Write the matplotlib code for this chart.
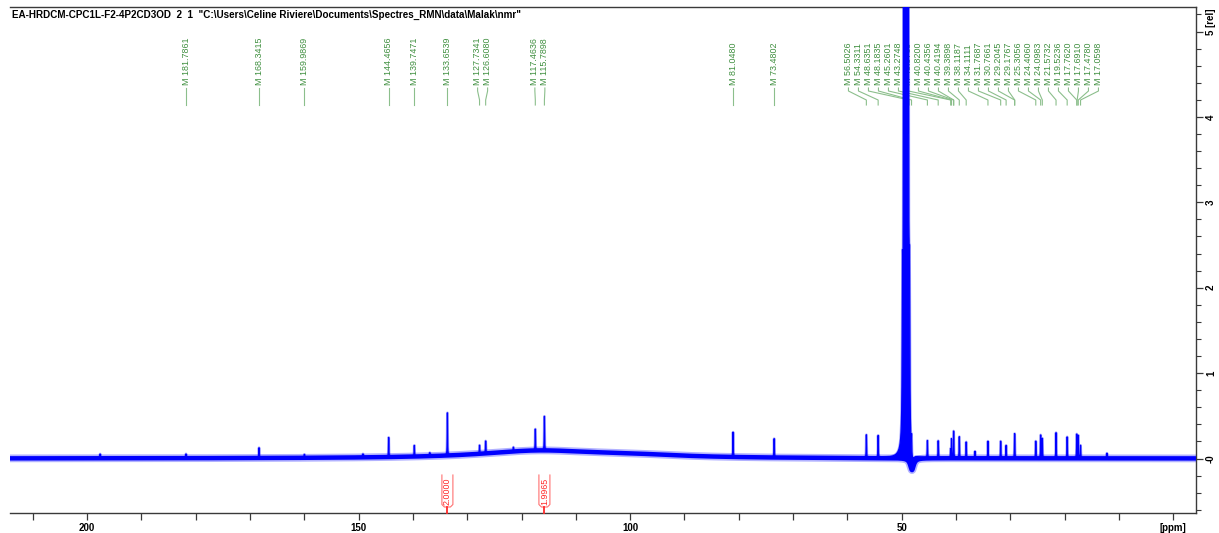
import numpy as np
import matplotlib
matplotlib.use("Agg")
import matplotlib.pyplot as plt
from matplotlib.transforms import blended_transform_factory

plt.rcParams['font.family'] = ['Liberation Sans', 'DejaVu Sans']

title = ('EA-HRDCM-CPC1L-F2-4P2CD3OD  2  1  '
         '"C:\\Users\\Celine Riviere\\Documents\\Spectres_RMN\\data\\Malak\\nmr"')

# Picked 13C peaks (ppm) and their intensities (rel)
peak_ppm = [181.7861, 168.3415, 159.9869, 144.4656, 139.7471, 133.6539,
            127.7341, 126.6080, 117.4636, 115.7898, 81.0480, 73.4802,
            56.5026, 54.3311, 48.6351, 48.1835, 45.2601, 43.2748, 40.9769,
            40.8200, 40.4356, 40.4194, 39.3898, 38.1187, 34.1111, 31.7687,
            30.7661, 29.2045, 29.1767, 25.3056, 24.4060, 24.0983, 21.5732,
            19.5236, 17.7620, 17.6910, 17.4780, 17.0598]
peak_height = [0.05, 0.12, 0.04, 0.23, 0.13, 0.50,
               0.10, 0.145, 0.25, 0.40, 0.29, 0.22,
               0.27, 0.26, 0.60, 0.20, 0.20, 0.20, 0.10,
               0.22, 0.20, 0.13, 0.25, 0.19, 0.20, 0.20,
               0.15, 0.20, 0.13, 0.20, 0.27, 0.23, 0.30,
               0.25, 0.24, 0.20, 0.26, 0.15]

# Small unpicked lines
minor_ppm = [197.6, 149.2, 136.9, 121.5, 36.5, 12.2]
minor_height = [0.05, 0.04, 0.04, 0.05, 0.08, 0.06]

# CD3OD septet
solvent_ppm = [49.845, 49.63, 49.415, 49.2, 48.985, 48.77, 48.555]
solvent_height = [1.7, 6.0, 8.0, 10.0, 8.0, 6.0, 1.7]

# Broad baseline features (hump and phase dip after the solvent)
broad_ppm = [117.0, 100.0, 48.1]
broad_height = [0.085, 0.03, -0.14]
broad_width = [13.0, 12.0, 0.4]

# Integrals
integral_ppm = [133.6539, 115.7898]
integral_value = [2.0000, 1.9965]

# Axes
x_range = (214.2, -4.2)
y_range = (-0.638, 5.287)
x_major = [200, 150, 100, 50, 0]
x_major_labels = ['200', '150', '100', '50', '[ppm]']
y_major = [0, 1, 2, 3, 4, 5]
y_major_labels = ['-0', '1', '2', '3', '4', '5']

W, H = 1219, 533
fig = plt.figure(figsize=(W / 100, H / 100), dpi=100)
ax_l, ax_b, ax_w, ax_h = 10, 20, 1186, 506
ax = fig.add_axes([ax_l / W, ax_b / H, ax_w / W, ax_h / H])
ax.set_xlim(*x_range)
ax.set_ylim(*y_range)
px_per_ppm = ax_w / (x_range[0] - x_range[1])

ppm = np.linspace(x_range[0], x_range[1], 40000)


def lorentz(x0, h, w):
    return h / (1.0 + ((ppm - x0) / w) ** 2)


base = np.zeros_like(ppm)
for x0, h, w in zip(broad_ppm, broad_height, broad_width):
    base += lorentz(x0, h, w)

sharp = np.zeros_like(ppm)
for x0, h in zip(peak_ppm, peak_height):
    sharp += lorentz(x0, h, 0.035)
for x0, h in zip(minor_ppm, minor_height):
    sharp += lorentz(x0, h, 0.035)
for x0, h in zip(solvent_ppm, solvent_height):
    sharp += lorentz(x0, h, 0.06)

blue = '#0000ff'
# noisy baseline band
ax.plot(ppm, base, color=blue, lw=5.6, alpha=0.3, solid_capstyle='butt', zorder=3)
ax.plot(ppm, base, color=blue, lw=3.2, solid_capstyle='butt', zorder=3)
# spectrum
spec = base + sharp
ax.fill_between(ppm, base, spec, color=blue, lw=0, zorder=4)
ax.plot(ppm, spec, color=blue, lw=2.0, alpha=0.35, zorder=4)
ax.plot(ppm, spec, color=blue, lw=0.9, zorder=5)

# Frame
for side in ('top', 'right', 'bottom'):
    ax.spines[side].set_color('#3a3a3a')
    ax.spines[side].set_linewidth(1.0)
ax.spines['left'].set_visible(False)

ax.set_xticks(x_major)
ax.set_xticklabels(x_major_labels, fontsize=7, fontweight='bold')
ax.set_xticks(np.arange(210, -1, -10), minor=True)
ax.tick_params(axis='x', which='both', direction='out', length=5,
               width=0.9, color='#3a3a3a', pad=2)

ax.yaxis.tick_right()
ax.set_yticks(y_major)
ax.set_yticklabels([])
ax.set_yticks(np.arange(-0.6, 5.25, 0.2), minor=True)
ax.tick_params(axis='y', which='major', direction='out', length=5,
               width=0.9, color='#3a3a3a')
ax.tick_params(axis='y', which='minor', direction='out', length=3.5,
               width=0.8, color='#3a3a3a')

ytrans = blended_transform_factory(ax.transAxes, ax.transData)
lab_x = 1 + 15 / ax_w
for v, s in zip(y_major[:-1], y_major_labels[:-1]):
    ax.text(lab_x, v, s, transform=ytrans, rotation=90, ha='center',
            va='center', fontsize=7, fontweight='bold', clip_on=False)
ax.text(lab_x, y_major[-1] - 3.5 / (ax_h / (y_range[1] - y_range[0])),
        y_major_labels[-1] + ' [rel]', transform=ytrans, rotation=90,
        rotation_mode='anchor', ha='left', va='center', fontsize=7,
        fontweight='bold', clip_on=False)

# Title
ax.text(2 / ax_w, 1 - 8 / ax_h, title, transform=ax.transAxes, ha='left',
        va='center', fontsize=7.1, fontweight='bold', zorder=2)

# Peak labels, spread apart so they do not overlap
def spread(xs, gap):
    groups = [[i] for i in range(len(xs))]

    def place(g):
        c = (xs[g[0]] + xs[g[-1]]) / 2.0
        n = len(g)
        return [c + (k - (n - 1) / 2.0) * gap for k in range(n)]

    merged = True
    while merged:
        merged = False
        pos = [place(g) for g in groups]
        for i in range(len(groups) - 1):
            if pos[i + 1][0] - pos[i][-1] < gap - 1e-9:
                groups[i] = groups[i] + groups[i + 1]
                del groups[i + 1]
                merged = True
                break
    return np.concatenate([place(g) for g in groups])


peak_px = [(x_range[0] - p) * px_per_ppm for p in peak_ppm]
label_px = spread(peak_px, 10.0)
label_ppm = [x_range[0] - q / px_per_ppm for q in label_px]

xtrans = blended_transform_factory(ax.transData, ax.transAxes)


def fy(px_from_top):
    return 1 - (px_from_top - 7) / ax_h


green_text = '#3f8f3f'
green_line = '#8cbf8c'
for p, lp in zip(peak_ppm, label_ppm):
    ax.text(lp, fy(85), 'M %.4f' % p, transform=xtrans, rotation=90,
            rotation_mode='anchor', ha='left', va='center', fontsize=6.4,
            color=green_text, zorder=1)
    ax.plot([lp, lp, p, p], [fy(88), fy(91), fy(100), fy(105)],
            transform=xtrans, color=green_line, lw=0.8, zorder=1)

# Integral labels
red = '#ff2a2a'
hw = 5.5 / px_per_ppm
r = 2.5 / px_per_ppm
for p, v in zip(integral_ppm, integral_value):
    top, bot, rr = fy(475), fy(507), 2.5 / ax_h
    ax.plot([p + hw, p + hw, p + hw - r, p - hw + r, p - hw, p - hw],
            [top, bot + rr, bot, bot, bot + rr, top],
            transform=xtrans, color='#ff7070', lw=0.8, clip_on=False, zorder=6)
    ax.plot([p, p], [bot, 0], transform=xtrans, color=red, lw=1.3,
            clip_on=False, zorder=6)
    ax.text(p, fy(491.5), '%.4f' % v, transform=xtrans, rotation=90,
            ha='center', va='center', fontsize=6.4, color=red, zorder=6)

fig.savefig('out.png', dpi=100)
